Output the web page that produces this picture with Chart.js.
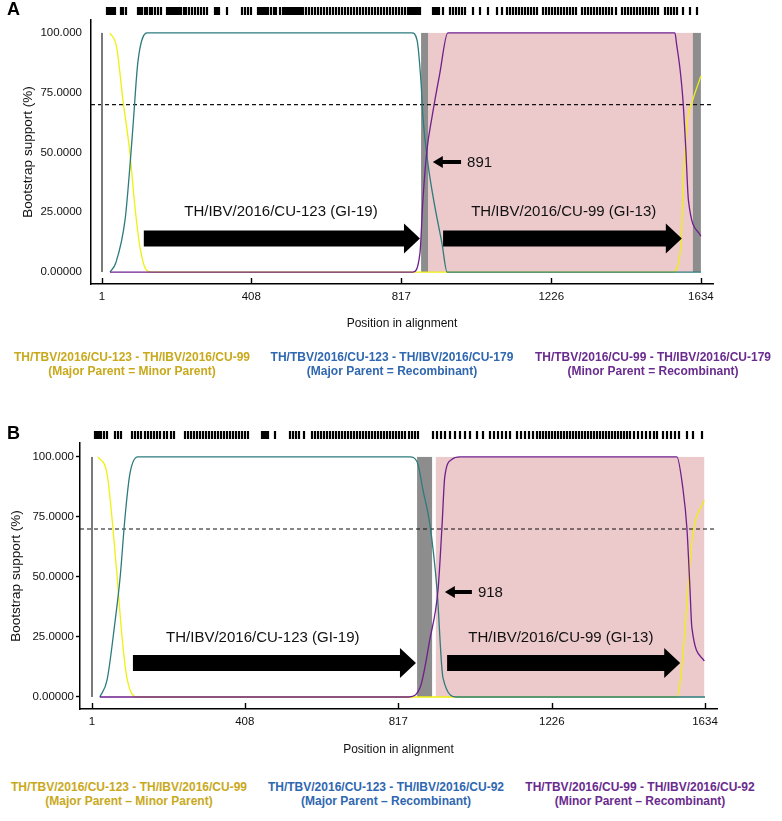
<!DOCTYPE html>
<html><head><meta charset="utf-8">
<script src="https://cdn.jsdelivr.net/npm/chart.js@4/dist/chart.umd.min.js"></script>
<style>
html,body{margin:0;padding:0;background:#fff;width:782px;height:821px;overflow:hidden;}
.wrap{position:absolute;left:0;width:782px;}
.letter{position:absolute;left:7px;font:bold 18px "Liberation Sans",Arial,sans-serif;line-height:17px;color:#000;}
.leg{position:absolute;font:bold 12px "Liberation Sans",Arial,sans-serif;text-align:center;white-space:nowrap;line-height:13.5px;transform:translateX(-50%);}
.gold{color:#c9a91c}.blue{color:#2f67b0}.purp{color:#6a2b8e}
</style></head><body>
<div class="wrap" style="top:0;height:340px"><canvas id="cA" width="782" height="340"></canvas></div>
<div class="wrap" style="top:380px;height:390px"><canvas id="cB" width="782" height="390"></canvas></div>
<div class="letter" style="top:1px">A</div>
<div class="letter" style="top:425px">B</div>

<div class="leg gold" style="left:132px;top:351px">TH/TBV/2016/CU-123 - TH/IBV/2016/CU-99<br>(Major Parent = Minor Parent)</div>
<div class="leg blue" style="left:392px;top:351px">TH/TBV/2016/CU-123 - TH/IBV/2016/CU-179<br>(Major Parent = Recombinant)</div>
<div class="leg purp" style="left:653px;top:351px">TH/TBV/2016/CU-99 - TH/IBV/2016/CU-179<br>(Minor Parent = Recombinant)</div>

<div class="leg gold" style="left:129px;top:781px">TH/TBV/2016/CU-123 - TH/IBV/2016/CU-99<br>(Major Parent – Minor Parent)</div>
<div class="leg blue" style="left:386px;top:781px">TH/TBV/2016/CU-123 - TH/IBV/2016/CU-92<br>(Major Parent – Recombinant)</div>
<div class="leg purp" style="left:640px;top:781px">TH/TBV/2016/CU-99 - TH/IBV/2016/CU-92<br>(Minor Parent – Recombinant)</div>

<script>
// ---------- shared axis data ----------
const xTickValues = [1, 408, 817, 1226, 1634];
const xTickLabels = ['1', '408', '817', '1226', '1634'];
const yTickValues = [0, 25, 50, 75, 100];
const yTickLabels = ['0.00000', '25.0000', '50.0000', '75.0000', '100.000'];
const cutoff = 70;

// ---------- Panel A data ----------
const sitesA = [15,20,26,31,36,53,58,66,99,105,110,118,124,132,137,145,154,162,178,184,189,195,200,205,211,216,225,230,238,246,255,263,271,279,287,309,314,320,342,383,391,399,407,426,432,437,443,448,454,462,470,475,486,494,500,505,511,516,522,527,533,538,543,549,557,565,573,582,590,598,606,614,623,631,639,647,655,663,672,680,688,696,704,712,721,729,737,745,753,762,770,778,786,794,802,811,819,827,835,841,846,852,857,862,868,903,909,914,920,931,950,958,966,974,982,991,1012,1032,1053,1078,1091,1105,1113,1121,1130,1138,1146,1154,1162,1170,1179,1187,1203,1211,1220,1228,1236,1244,1252,1260,1269,1277,1285,1293,1309,1318,1326,1334,1342,1350,1359,1367,1375,1383,1391,1402,1419,1427,1435,1443,1451,1459,1468,1476,1484,1492,1500,1508,1517,1536,1544,1552,1560,1568,1585,1604,1623];
const yellowPosA = [23, 41, 58, 77, 91, 105, 121, 135, 1558, 1580, 1586, 1597, 1610, 1634];
const yellowValA = [100, 94, 72, 50, 27, 10, 1, 0, 0, 12, 38, 63, 71, 82];
const tealPosA = [23, 39, 64, 77, 86, 99, 124, 846, 860, 871, 876, 890, 909, 928, 942, 1634];
const tealValA = [0, 4, 22, 44, 62, 88, 100, 100, 97, 79, 65, 45, 27, 12, 0, 0];
const purplePosA = [23, 849, 868, 876, 887, 901, 922, 944, 1563, 1568, 1577, 1585, 1593, 1600, 1634];
const purpleValA = [0, 0, 8, 30, 51, 65, 83, 100, 100, 95, 85, 72, 51, 30, 15];
const grayA = [[871, 890], [1612, 1634]];
const pinkA = [[890, 1612]];
const parentArrowsA = [[115, 868], [931, 1582]];
const parentNamesA = ['TH/IBV/2016/CU-123 (GI-19)', 'TH/IBV/2016/CU-99 (GI-13)'];
const parentNamePosA = [489, 1260];
const breakpointA = 891;
const breakpointArrowA = [903, 980];

// ---------- Panel B data ----------
const sitesB = [9,14,20,25,33,41,62,70,78,108,116,124,132,142,150,158,166,174,182,193,201,211,219,249,257,265,273,281,289,297,305,313,321,329,337,345,353,361,369,377,385,393,401,409,417,454,459,465,470,489,528,536,544,552,566,587,595,603,611,619,627,635,643,651,659,667,675,683,691,699,707,715,723,731,739,747,755,763,771,779,787,795,803,811,819,827,835,846,854,862,869,909,920,931,941,955,968,981,995,1008,1027,1043,1061,1072,1083,1093,1104,1115,1133,1144,1155,1165,1176,1186,1195,1203,1211,1219,1227,1235,1243,1251,1259,1267,1275,1283,1291,1299,1307,1315,1323,1331,1339,1347,1354,1362,1370,1378,1386,1394,1402,1410,1418,1426,1434,1445,1456,1466,1477,1487,1498,1506,1522,1533,1543,1554,1565,1586,1602,1626];
const yellowPosB = [17, 41, 57, 68, 81, 94, 121, 1559, 1575, 1589, 1602, 1632];
const yellowValB = [100, 93, 70, 50, 25, 8, 0, 0, 17, 46, 68, 82];
const tealPosB = [22, 41, 62, 76, 89, 102, 123, 848, 867, 883, 901, 920, 936, 973, 1634];
const tealValB = [0, 7, 31, 50, 75, 93, 100, 100, 98, 86, 72, 45, 8, 0, 0];
const purplePosB = [22, 843, 875, 901, 923, 933, 941, 960, 981, 1559, 1575, 1586, 1594, 1599, 1632];
const purpleValB = [0, 0, 4, 24, 45, 70, 92, 99, 100, 100, 87, 70, 45, 29, 15];
const grayB = [[867, 907]];
const pinkB = [[917, 1632]];
const parentArrowsB = [[110, 864], [947, 1568]];
const parentNamesB = ['TH/IBV/2016/CU-123 (GI-19)', 'TH/IBV/2016/CU-99 (GI-13)'];
const parentNamePosB = [456, 1250];
const breakpointB = 918;
const breakpointArrowB = [941, 1013];

// ---------- helpers ----------
const FONT = '"Liberation Sans", Arial, sans-serif';
function pts(xs, ys) { return xs.map((x, i) => ({ x: x, y: ys[i] })); }

function bigArrow(ctx, x0, x1, yc) {
  const body = 16, head = 30, hl = 16;
  ctx.beginPath();
  ctx.moveTo(x0, yc - body / 2);
  ctx.lineTo(x1 - hl, yc - body / 2);
  ctx.lineTo(x1 - hl, yc - head / 2);
  ctx.lineTo(x1, yc);
  ctx.lineTo(x1 - hl, yc + head / 2);
  ctx.lineTo(x1 - hl, yc + body / 2);
  ctx.lineTo(x0, yc + body / 2);
  ctx.closePath();
  ctx.fill();
}
function smallArrow(ctx, tip, tail, yc) {
  const shaft = 4, head = 12, hl = 10;
  ctx.beginPath();
  ctx.moveTo(tip, yc);
  ctx.lineTo(tip + hl, yc - head / 2);
  ctx.lineTo(tip + hl, yc - shaft / 2);
  ctx.lineTo(tail, yc - shaft / 2);
  ctx.lineTo(tail, yc + shaft / 2);
  ctx.lineTo(tip + hl, yc + shaft / 2);
  ctx.lineTo(tip + hl, yc + head / 2);
  ctx.closePath();
  ctx.fill();
}

function makePanel(id, p) {
  const lineDs = (label, xs, ys, color) => ({
    label: label, data: pts(xs, ys), borderColor: color, borderWidth: 1.3,
    pointRadius: 0, fill: false, cubicInterpolationMode: 'monotone'
  });
  const datasets = [
    lineDs('Minor - Recombinant', p.purple[0], p.purple[1], '#6d1f8e'),
    lineDs('Major - Recombinant', p.teal[0], p.teal[1], '#2c7c7e'),
    lineDs('Major - Minor', p.yellow[0], p.yellow[1], '#f0f010'),
    { label: 'start', data: [{ x: 1, y: 0 }, { x: 1, y: 100 }], borderColor: '#7a7a7a', borderWidth: 2, pointRadius: 0, tension: 0 },
    { label: 'cutoff', data: [{ x: p.xMin, y: cutoff }, { x: p.xMax, y: cutoff }], borderColor: '#111', borderWidth: 1.1, borderDash: [4, 3], pointRadius: 0, tension: 0 }
  ];

  const regions = {
    id: 'regions',
    beforeDatasetsDraw(chart) {
      const { ctx, scales: { x, y } } = chart;
      const top = y.getPixelForValue(100), bot = y.getPixelForValue(0);
      ctx.save();
      ctx.fillStyle = '#ecc9ca';
      p.pink.forEach(([a, b]) => { const xa = x.getPixelForValue(a); ctx.fillRect(xa, top, x.getPixelForValue(b) - xa, bot - top); });
      ctx.fillStyle = '#8d8d8d';
      p.gray.forEach(([a, b]) => { const xa = x.getPixelForValue(a); ctx.fillRect(xa, top, x.getPixelForValue(b) - xa, bot - top); });
      ctx.restore();
    }
  };

  const overlay = {
    id: 'overlay',
    afterDatasetsDraw(chart) {
      const { ctx, chartArea, scales: { x, y } } = chart;
      ctx.save();
      ctx.fillStyle = '#000';
      const ay = y.getPixelForValue(p.arrowY);
      p.arrows.forEach(([a, b]) => bigArrow(ctx, x.getPixelForValue(a), x.getPixelForValue(b), ay));
      ctx.font = '15px ' + FONT;
      ctx.fillStyle = '#111';
      ctx.textAlign = 'center';
      ctx.textBaseline = 'middle';
      p.names.forEach((t, i) => ctx.fillText(t, x.getPixelForValue(p.namePos[i]), y.getPixelForValue(p.nameY)));
      const by = y.getPixelForValue(p.bpY);
      const tail = x.getPixelForValue(p.bpArrow[1]);
      ctx.fillStyle = '#000';
      smallArrow(ctx, x.getPixelForValue(p.bpArrow[0]), tail, by);
      ctx.textAlign = 'left';
      ctx.fillStyle = '#111';
      ctx.fillText(String(p.bp), tail + 6, by + 1);
      // informative sites
      ctx.strokeStyle = '#000';
      ctx.lineWidth = 2.2;
      p.sites.forEach(s => {
        const px = Math.round(x.getPixelForValue(s));
        ctx.beginPath(); ctx.moveTo(px, chartArea.top - p.siteTop); ctx.lineTo(px, chartArea.top - p.siteBot); ctx.stroke();
      });
      // inward x ticks
      ctx.lineWidth = 1.4;
      xTickValues.forEach(v => {
        const px = Math.round(x.getPixelForValue(v)) + 0.5;
        ctx.beginPath(); ctx.moveTo(px, chartArea.bottom); ctx.lineTo(px, chartArea.bottom - 6); ctx.stroke();
      });
      ctx.restore();
    }
  };

  return new Chart(document.getElementById(id), {
    type: 'line',
    data: { datasets: datasets },
    plugins: [regions, overlay],
    options: {
      responsive: false,
      animation: false,
      layout: { padding: { left: 0, right: p.padRight, top: p.padTop, bottom: 0 } },
      plugins: { legend: { display: false }, tooltip: { enabled: false } },
      elements: { line: { borderCapStyle: 'butt' } },
      scales: {
        x: {
          type: 'linear', min: p.xMin, max: p.xMax,
          afterBuildTicks: s => { s.ticks = xTickValues.map(v => ({ value: v })); },
          afterFit: s => { s.height = p.xAxisHeight; },
          ticks: { autoSkip: false, maxRotation: 0, padding: 6, color: '#111', font: { family: FONT, size: 11.5 }, callback: (v, i) => xTickLabels[i] },
          grid: { display: true, drawOnChartArea: false, drawTicks: false },
          border: { display: true, color: '#000', width: 1.5 },
          title: { display: true, text: 'Position in alignment', color: '#111', font: { family: FONT, size: 12 }, padding: { top: 0, bottom: p.xTitlePad } }
        },
        y: {
          type: 'linear', min: p.yMin, max: p.yMax,
          afterBuildTicks: s => { s.ticks = yTickValues.map(v => ({ value: v })); },
          afterFit: s => { s.width = p.yAxisWidth; },
          ticks: { padding: p.yTickPad, color: '#111', font: { family: FONT, size: 11.5 }, callback: (v, i) => yTickLabels[i] },
          grid: { display: true, drawOnChartArea: false, drawTicks: p.yTickLen > 0, tickLength: p.yTickLen, color: '#000', tickWidth: 1.4 },
          border: { display: true, color: '#000', width: 1.5 },
          title: { display: true, text: 'Bootstrap support (%)', color: '#111', font: { family: FONT, size: 13.5 }, padding: { top: p.yTitlePad, bottom: 0 } }
        }
      }
    }
  });
}

makePanel('cA', {
  xMin: -29, xMax: 1667, yMin: -5, yMax: 105.4,
  padTop: 20, padRight: 69, xAxisHeight: 56, yAxisWidth: 91, xTitlePad: 9, yTitlePad: 20.5,
  yTickPad: 9, yTickLen: 0, siteTop: 13, siteBot: 5,
  sites: sitesA, yellow: [yellowPosA, yellowValA], teal: [tealPosA, tealValA], purple: [purplePosA, purpleValA],
  gray: grayA, pink: pinkA, arrows: parentArrowsA, arrowY: 14, names: parentNamesA, namePos: parentNamePosA, nameY: 25,
  bp: breakpointA, bpArrow: breakpointArrowA, bpY: 46
});

makePanel('cB', {
  xMin: -31, xMax: 1666, yMin: -5, yMax: 105.8,
  padTop: 63, padRight: 65, xAxisHeight: 61, yAxisWidth: 80, xTitlePad: 13, yTitlePad: 7.7,
  yTickPad: 2, yTickLen: 4, siteTop: 12, siteBot: 4,
  sites: sitesB, yellow: [yellowPosB, yellowValB], teal: [tealPosB, tealValB], purple: [purplePosB, purpleValB],
  gray: grayB, pink: pinkB, arrows: parentArrowsB, arrowY: 14.2, names: parentNamesB, namePos: parentNamePosB, nameY: 24.6,
  bp: breakpointB, bpArrow: breakpointArrowB, bpY: 43.75
});
</script>
</body></html>
